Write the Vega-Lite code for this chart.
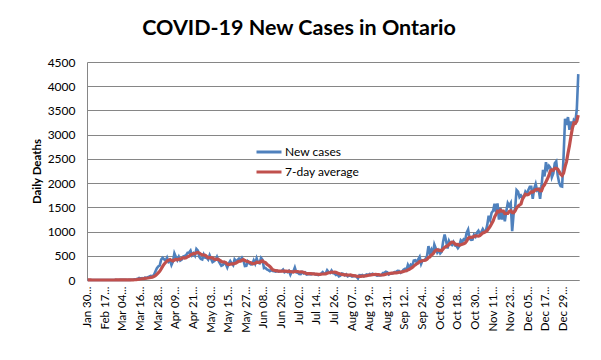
{
  "$schema": "https://vega.github.io/schema/vega-lite/v6.json",
  "width": 492,
  "height": 218,
  "autosize": "none",
  "padding": {"left": 87, "top": 62, "right": 22, "bottom": 80},
  "background": "white",
  "config": {
    "view": {"stroke": null},
    "font": "Lato",
    "axis": {"labelFont": "Lato", "titleFont": "Lato", "labelColor": "#000000", "titleColor": "#000000"},
    "axisY": {"grid": true, "gridColor": "#868686", "gridWidth": 1, "gridOpacity": 1, "ticks": false, "domainColor": "#868686"},
    "axisX": {"grid": false},
    "legend": {"labelFont": "Lato"}
  },
  "title": {
    "text": "COVID-19 New Cases in Ontario",
    "fontSize": 21.5,
    "fontWeight": "bold",
    "font": "Lato",
    "color": "#000000",
    "anchor": "middle",
    "dx": -34,
    "offset": 17
  },
  "data": {
    "values": [
      {"date":"Jan 30","cases":1},{"date":"Jan 31","cases":1},{"date":"Feb 01","cases":0},{"date":"Feb 03","cases":0},{"date":"Feb 04","cases":0},{"date":"Feb 05","cases":0},{"date":"Feb 06","cases":0},{"date":"Feb 08","cases":0},{"date":"Feb 10","cases":0},{"date":"Feb 12","cases":0},{"date":"Feb 14","cases":0},{"date":"Feb 15","cases":0},
      {"date":"Feb 17","cases":0},{"date":"Feb 19","cases":0},{"date":"Feb 21","cases":0},{"date":"Feb 22","cases":0},{"date":"Feb 24","cases":1},{"date":"Feb 25","cases":1},{"date":"Feb 26","cases":1},{"date":"Feb 27","cases":2},{"date":"Feb 28","cases":1},{"date":"Feb 29","cases":1},{"date":"Mar 01","cases":3},{"date":"Mar 03","cases":2},
      {"date":"Mar 04","cases":2},{"date":"Mar 05","cases":3},{"date":"Mar 06","cases":3},{"date":"Mar 07","cases":1},{"date":"Mar 08","cases":4},{"date":"Mar 09","cases":3},{"date":"Mar 10","cases":5},{"date":"Mar 11","cases":5},{"date":"Mar 12","cases":17},{"date":"Mar 13","cases":20},{"date":"Mar 14","cases":24},{"date":"Mar 15","cases":42},
      {"date":"Mar 16","cases":32},{"date":"Mar 17","cases":38},{"date":"Mar 18","cases":28},{"date":"Mar 19","cases":48},{"date":"Mar 20","cases":44},{"date":"Mar 21","cases":60},{"date":"Mar 22","cases":72},{"date":"Mar 23","cases":85},{"date":"Mar 24","cases":78},{"date":"Mar 25","cases":100},{"date":"Mar 26","cases":170},{"date":"Mar 27","cases":240},
      {"date":"Mar 28","cases":280},{"date":"Mar 29","cases":300},{"date":"Mar 30","cases":420},{"date":"Mar 31","cases":460},
      {"date":"Apr 01","cases":426},{"date":"Apr 02","cases":401},{"date":"Apr 03","cases":462},{"date":"Apr 04","cases":375},{"date":"Apr 05","cases":408},{"date":"Apr 06","cases":309},{"date":"Apr 07","cases":379},{"date":"Apr 08","cases":550},{"date":"Apr 09","cases":478},{"date":"Apr 10","cases":411},{"date":"Apr 11","cases":478},{"date":"Apr 12","cases":401},{"date":"Apr 13","cases":421},{"date":"Apr 14","cases":483},{"date":"Apr 15","cases":494},{"date":"Apr 16","cases":514},{"date":"Apr 17","cases":564},{"date":"Apr 18","cases":565},{"date":"Apr 19","cases":606},{"date":"Apr 20","cases":510},{"date":"Apr 21","cases":551},{"date":"Apr 22","cases":504},{"date":"Apr 23","cases":640},{"date":"Apr 24","cases":606},{"date":"Apr 25","cases":476},{"date":"Apr 26","cases":437},{"date":"Apr 27","cases":424},{"date":"Apr 28","cases":525},{"date":"Apr 29","cases":459},{"date":"Apr 30","cases":460},
      {"date":"May 01","cases":421},{"date":"May 02","cases":511},{"date":"May 03","cases":434},{"date":"May 04","cases":370},{"date":"May 05","cases":387},{"date":"May 06","cases":412},{"date":"May 07","cases":477},{"date":"May 08","cases":399},{"date":"May 09","cases":346},{"date":"May 10","cases":294},{"date":"May 11","cases":308},{"date":"May 12","cases":361},{"date":"May 13","cases":329},{"date":"May 14","cases":258},{"date":"May 15","cases":341},{"date":"May 16","cases":391},{"date":"May 17","cases":340},{"date":"May 18","cases":304},{"date":"May 19","cases":427},{"date":"May 20","cases":390},{"date":"May 21","cases":413},{"date":"May 22","cases":441},{"date":"May 23","cases":412},{"date":"May 24","cases":460},{"date":"May 25","cases":404},{"date":"May 26","cases":287},{"date":"May 27","cases":292},{"date":"May 28","cases":383},{"date":"May 29","cases":344},{"date":"May 30","cases":323},{"date":"May 31","cases":326},
      {"date":"Jun 01","cases":404},{"date":"Jun 02","cases":338},{"date":"Jun 03","cases":446},{"date":"Jun 04","cases":356},{"date":"Jun 05","cases":344},{"date":"Jun 06","cases":455},{"date":"Jun 07","cases":415},{"date":"Jun 08","cases":243},{"date":"Jun 09","cases":251},{"date":"Jun 10","cases":219},{"date":"Jun 11","cases":203},{"date":"Jun 12","cases":182},{"date":"Jun 13","cases":203},{"date":"Jun 14","cases":184},{"date":"Jun 15","cases":181},{"date":"Jun 16","cases":173},{"date":"Jun 17","cases":190},{"date":"Jun 18","cases":173},{"date":"Jun 19","cases":180},{"date":"Jun 20","cases":186},{"date":"Jun 21","cases":215},{"date":"Jun 22","cases":161},{"date":"Jun 23","cases":178},{"date":"Jun 24","cases":163},{"date":"Jun 25","cases":189},{"date":"Jun 26","cases":111},{"date":"Jun 27","cases":175},{"date":"Jun 28","cases":178},{"date":"Jun 29","cases":257},{"date":"Jun 30","cases":157},
      {"date":"Jul 01","cases":153},{"date":"Jul 02","cases":124},{"date":"Jul 03","cases":121},{"date":"Jul 04","cases":165},{"date":"Jul 05","cases":138},{"date":"Jul 06","cases":154},{"date":"Jul 07","cases":112},{"date":"Jul 08","cases":118},{"date":"Jul 09","cases":118},{"date":"Jul 10","cases":116},{"date":"Jul 11","cases":130},{"date":"Jul 12","cases":129},{"date":"Jul 13","cases":116},{"date":"Jul 14","cases":111},{"date":"Jul 15","cases":102},{"date":"Jul 16","cases":111},{"date":"Jul 17","cases":135},{"date":"Jul 18","cases":164},{"date":"Jul 19","cases":129},{"date":"Jul 20","cases":135},{"date":"Jul 21","cases":203},{"date":"Jul 22","cases":165},{"date":"Jul 23","cases":146},{"date":"Jul 24","cases":195},{"date":"Jul 25","cases":144},{"date":"Jul 26","cases":137},{"date":"Jul 27","cases":104},{"date":"Jul 28","cases":118},{"date":"Jul 29","cases":76},{"date":"Jul 30","cases":89},{"date":"Jul 31","cases":134},
      {"date":"Aug 01","cases":124},{"date":"Aug 02","cases":96},{"date":"Aug 03","cases":117},{"date":"Aug 04","cases":75},{"date":"Aug 05","cases":89},{"date":"Aug 06","cases":91},{"date":"Aug 07","cases":70},{"date":"Aug 08","cases":80},{"date":"Aug 09","cases":88},{"date":"Aug 10","cases":68},{"date":"Aug 11","cases":33},{"date":"Aug 12","cases":99},{"date":"Aug 13","cases":95},{"date":"Aug 14","cases":103},{"date":"Aug 15","cases":78},{"date":"Aug 16","cases":102},{"date":"Aug 17","cases":115},{"date":"Aug 18","cases":99},{"date":"Aug 19","cases":125},{"date":"Aug 20","cases":116},{"date":"Aug 21","cases":131},{"date":"Aug 22","cases":108},{"date":"Aug 23","cases":105},{"date":"Aug 24","cases":90},{"date":"Aug 25","cases":94},{"date":"Aug 26","cases":95},{"date":"Aug 27","cases":100},{"date":"Aug 28","cases":146},{"date":"Aug 29","cases":148},{"date":"Aug 30","cases":169},{"date":"Aug 31","cases":158},
      {"date":"Sep 01","cases":114},{"date":"Sep 02","cases":133},{"date":"Sep 03","cases":132},{"date":"Sep 04","cases":148},{"date":"Sep 05","cases":165},{"date":"Sep 06","cases":169},{"date":"Sep 07","cases":190},{"date":"Sep 08","cases":185},{"date":"Sep 09","cases":149},{"date":"Sep 10","cases":170},{"date":"Sep 11","cases":213},{"date":"Sep 12","cases":232},{"date":"Sep 13","cases":204},{"date":"Sep 14","cases":313},{"date":"Sep 15","cases":251},{"date":"Sep 16","cases":315},{"date":"Sep 17","cases":293},{"date":"Sep 18","cases":401},{"date":"Sep 19","cases":407},{"date":"Sep 20","cases":365},{"date":"Sep 21","cases":425},{"date":"Sep 22","cases":478},{"date":"Sep 23","cases":335},{"date":"Sep 24","cases":409},{"date":"Sep 25","cases":409},{"date":"Sep 26","cases":435},{"date":"Sep 27","cases":491},{"date":"Sep 28","cases":700},{"date":"Sep 29","cases":554},{"date":"Sep 30","cases":625},
      {"date":"Oct 01","cases":538},{"date":"Oct 02","cases":732},{"date":"Oct 03","cases":653},{"date":"Oct 04","cases":566},{"date":"Oct 05","cases":615},{"date":"Oct 06","cases":548},{"date":"Oct 07","cases":583},{"date":"Oct 08","cases":797},{"date":"Oct 09","cases":939},{"date":"Oct 10","cases":809},{"date":"Oct 11","cases":649},{"date":"Oct 12","cases":807},{"date":"Oct 13","cases":746},{"date":"Oct 14","cases":721},{"date":"Oct 15","cases":783},{"date":"Oct 16","cases":712},{"date":"Oct 17","cases":704},{"date":"Oct 18","cases":658},{"date":"Oct 19","cases":704},{"date":"Oct 20","cases":821},{"date":"Oct 21","cases":790},{"date":"Oct 22","cases":841},{"date":"Oct 23","cases":826},{"date":"Oct 24","cases":978},{"date":"Oct 25","cases":1042},{"date":"Oct 26","cases":851},{"date":"Oct 27","cases":827},{"date":"Oct 28","cases":834},{"date":"Oct 29","cases":934},{"date":"Oct 30","cases":896},{"date":"Oct 31","cases":977},
      {"date":"Nov 01","cases":1015},{"date":"Nov 02","cases":948},{"date":"Nov 03","cases":987},{"date":"Nov 04","cases":1050},{"date":"Nov 05","cases":998},{"date":"Nov 06","cases":1003},{"date":"Nov 07","cases":1132},{"date":"Nov 08","cases":1328},{"date":"Nov 09","cases":1242},{"date":"Nov 10","cases":1388},{"date":"Nov 11","cases":1426},{"date":"Nov 12","cases":1575},{"date":"Nov 13","cases":1396},{"date":"Nov 14","cases":1581},{"date":"Nov 15","cases":1248},{"date":"Nov 16","cases":1487},{"date":"Nov 17","cases":1249},{"date":"Nov 18","cases":1417},{"date":"Nov 19","cases":1210},{"date":"Nov 20","cases":1418},{"date":"Nov 21","cases":1588},{"date":"Nov 22","cases":1534},{"date":"Nov 23","cases":1589},{"date":"Nov 24","cases":1009},{"date":"Nov 25","cases":1373},{"date":"Nov 26","cases":1478},{"date":"Nov 27","cases":1855},{"date":"Nov 28","cases":1822},{"date":"Nov 29","cases":1708},{"date":"Nov 30","cases":1746},
      {"date":"Dec 01","cases":1707},{"date":"Dec 02","cases":1723},{"date":"Dec 03","cases":1824},{"date":"Dec 04","cases":1780},{"date":"Dec 05","cases":1859},{"date":"Dec 06","cases":1924},{"date":"Dec 07","cases":1925},{"date":"Dec 08","cases":1676},{"date":"Dec 09","cases":1890},{"date":"Dec 10","cases":1983},{"date":"Dec 11","cases":1848},{"date":"Dec 12","cases":1873},{"date":"Dec 13","cases":1677},{"date":"Dec 14","cases":1940},{"date":"Dec 15","cases":2275},{"date":"Dec 16","cases":2139},{"date":"Dec 17","cases":2432},{"date":"Dec 18","cases":2290},{"date":"Dec 19","cases":2357},{"date":"Dec 20","cases":2316},{"date":"Dec 21","cases":2123},{"date":"Dec 22","cases":2202},{"date":"Dec 23","cases":2408},{"date":"Dec 24","cases":2447},{"date":"Dec 25","cases":2159},{"date":"Dec 26","cases":2005},{"date":"Dec 27","cases":1939},{"date":"Dec 28","cases":1930},{"date":"Dec 29","cases":2553},{"date":"Dec 30","cases":3328},{"date":"Dec 31","cases":3200},
      {"date":"Jan 01","cases":3363},{"date":"Jan 02","cases":3100},{"date":"Jan 03","cases":3270},{"date":"Jan 04","cases":3128},{"date":"Jan 05","cases":3300},{"date":"Jan 06","cases":3266},{"date":"Jan 07","cases":3519},{"date":"Jan 08","cases":4249}
    ]
  },
  "transform": [
    {"window": [{"op": "mean", "field": "cases", "as": "avg"}], "frame": [-6, 0]}
  ],
  "encoding": {
    "x": {
      "field": "date",
      "type": "ordinal",
      "sort": null,
      "scale": {"type": "point", "padding": 0.5},
      "axis": {
        "title": null,
        "values": ["Jan 30","Feb 17","Mar 04","Mar 16","Mar 28","Apr 09","Apr 21","May 03","May 15","May 27","Jun 08","Jun 20","Jul 02","Jul 14","Jul 26","Aug 07","Aug 19","Aug 31","Sep 12","Sep 24","Oct 06","Oct 18","Oct 30","Nov 11","Nov 23","Dec 05","Dec 17","Dec 29"],
        "labelExpr": "datum.value + '...'",
        "labelAngle": -90,
        "labelAlign": "right",
        "labelBaseline": "middle",
        "labelPadding": 6,
        "labelFontSize": 11.5,
        "labelOverlap": false,
        "ticks": false,
        "grid": false,
        "domainColor": "#868686",
        "domainWidth": 1
      }
    },
    "y": {
      "type": "quantitative",
      "scale": {"domain": [0, 4500], "nice": false},
      "axis": {
        "title": "Daily Deaths",
        "titleFontSize": 11.5,
        "titleFontWeight": "bold",
        "titlePadding": 5,
        "values": [0,500,1000,1500,2000,2500,3000,3500,4000,4500],
        "format": "d",
        "labelFontSize": 12,
        "labelPadding": 12,
        "ticks": false,
        "grid": true,
        "gridColor": "#868686",
        "gridWidth": 1,
        "domainColor": "#868686"
      }
    }
  },
  "layer": [
    {
      "mark": {"type": "line", "strokeWidth": 2.6},
      "encoding": {
        "y": {"field": "cases", "type": "quantitative", "title": "Daily Deaths"},
        "color": {
          "datum": "New cases",
          "scale": {"domain": ["New cases", "7-day average"], "range": ["#4F81BD", "#C0504D"]},
          "legend": {
            "title": null,
            "orient": "none",
            "legendX": 168,
            "legendY": 76,
            "symbolType": "stroke",
            "symbolStrokeWidth": 3,
            "symbolSize": 625,
            "labelFontSize": 12,
            "labelOffset": 2,
            "rowPadding": -1,
            "padding": 0
          }
        }
      }
    },
    {
      "mark": {"type": "line", "strokeWidth": 3.2},
      "encoding": {
        "y": {"field": "avg", "type": "quantitative", "title": "Daily Deaths"},
        "color": {"datum": "7-day average"}
      }
    }
  ]
}
